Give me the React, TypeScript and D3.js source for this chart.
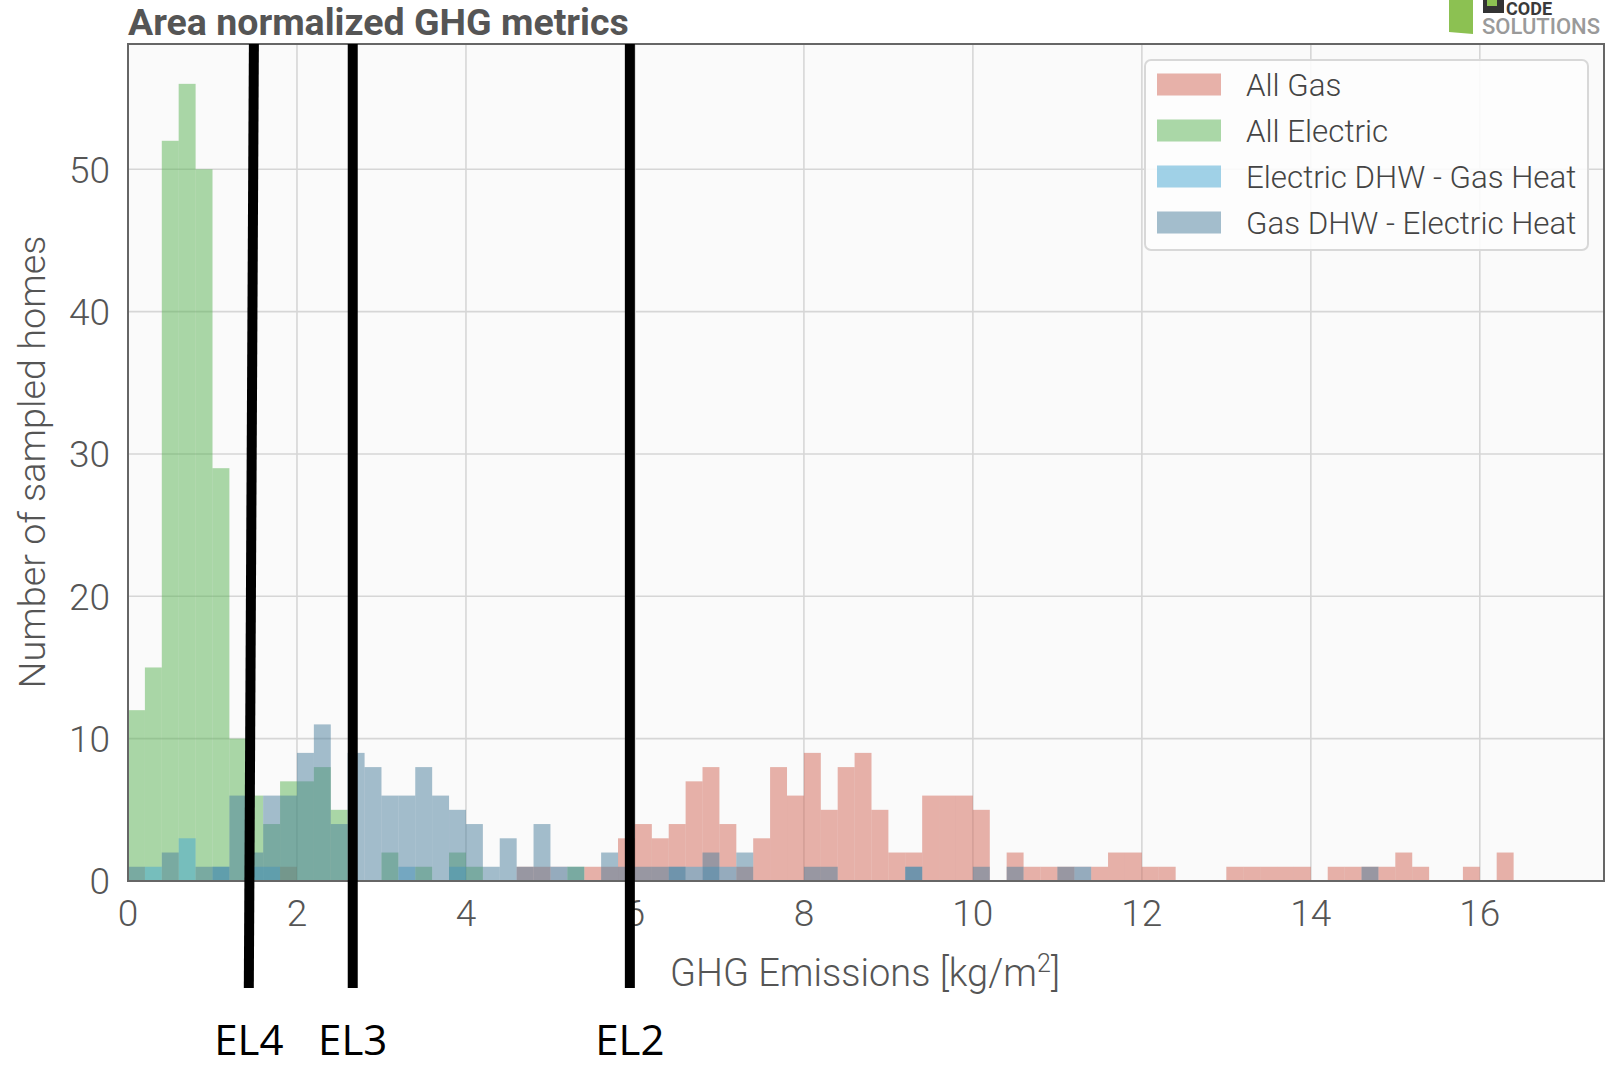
import React, { useEffect, useRef } from 'react';
import * as d3 from 'd3';

// histogram counts, one value per 0.2 kg/m2 bin starting at 0
const BIN_WIDTH = 0.2;

const allGas = [
  0, 0, 0, 0, 0, 0, 0, 0, 0, 1,
  0, 0, 0, 0, 0, 0, 0, 0, 0, 0,
  0, 0, 0, 1, 1, 1, 0, 1, 1, 3,
  4, 3, 4, 7, 8, 4, 1, 3, 8, 6,
  9, 5, 8, 9, 5, 2, 2, 6, 6, 6,
  5, 0, 2, 1, 1, 1, 1, 1, 2, 2,
  1, 1, 0, 0, 0, 1, 1, 1, 1, 1,
  0, 1, 1, 1, 1, 2, 1, 0, 0, 1,
  0, 2,
];

const allElectric = [
  12, 15, 52, 56, 50, 29, 10, 6, 4, 7,
  7, 8, 5, 0, 0, 2, 0, 1, 0, 2,
  1, 0, 0, 0, 0, 0, 1,
];

const elecDhwGasHeat = [
  0, 1, 0, 3, 0, 1, 0, 1, 1, 0,
  0, 0, 0, 0, 0, 0, 1, 0, 0, 1,
  0, 0, 0, 0, 0, 1, 0, 0, 0, 0,
  0, 0, 1, 1, 1, 1, 0, 0, 0, 0,
  0, 0, 0, 0, 0, 0, 1, 0, 0, 0,
  0, 0, 0, 0, 0, 0, 1,
];

const gasDhwElecHeat = [
  1, 0, 2, 0, 1, 1, 6, 2, 6, 6,
  9, 11, 4, 9, 8, 6, 6, 8, 6, 5,
  4, 1, 3, 1, 4, 0, 1, 0, 2, 1,
  1, 1, 1, 0, 2, 0, 2, 0, 0, 0,
  1, 1, 0, 0, 0, 0, 1, 0, 0, 0,
  1, 0, 1, 0, 0, 1, 0, 0, 0, 0,
  0, 0, 0, 0, 0, 0, 0, 0, 0, 0,
  0, 0, 0, 1,
];

const seriesNames = ['All Gas', 'All Electric', 'Electric DHW - Gas Heat', 'Gas DHW - Electric Heat'];
const seriesCounts = [allGas, allElectric, elecDhwGasHeat, gasDhwElecHeat];
const seriesColors = ['#d26656', '#58b252', '#44a6d2', '#4a7e9c'];

const xTicks = [0, 2, 4, 6, 8, 10, 12, 14, 16];
const yTicks = [0, 10, 20, 30, 40, 50];

// efficiency level marker lines drawn over the chart
const levelNames = ['EL4', 'EL3', 'EL2'];
const levelTopValue = [1.49, 2.66, 5.94];
const levelBottomValue = [1.43, 2.66, 5.94];

const App = () => {
  const ref = useRef(null);

  useEffect(() => {
    const width = 1614;
    const height = 1067;
    const margin = { top: 44, right: 10, bottom: 186, left: 128 };
    const fontMain = 'Roboto, "Noto Sans", sans-serif';

    const svg = d3.select(ref.current);
    svg.selectAll('*').remove();
    svg.attr('width', width).attr('height', height);

    svg.append('rect').attr('width', width).attr('height', height).attr('fill', '#ffffff');

    const x = d3.scaleLinear().domain([0, 17.47]).range([margin.left, width - margin.right]);
    const y = d3.scaleLinear().domain([0, 58.8]).range([height - margin.bottom, margin.top]);

    const plotW = x.range()[1] - x.range()[0];
    const plotH = y.range()[0] - y.range()[1];

    svg.append('rect')
      .attr('x', margin.left).attr('y', margin.top)
      .attr('width', plotW).attr('height', plotH)
      .attr('fill', '#fafafa');

    // grid
    const grid = svg.append('g').attr('stroke', '#d6d6d6').attr('stroke-width', 1.6);
    grid.selectAll('line.vx')
      .data(xTicks.filter(d => d > 0))
      .join('line')
      .attr('x1', d => x(d)).attr('x2', d => x(d))
      .attr('y1', margin.top).attr('y2', y(0));
    grid.selectAll('line.hy')
      .data(yTicks.filter(d => d > 0))
      .join('line')
      .attr('x1', margin.left).attr('x2', width - margin.right)
      .attr('y1', d => y(d)).attr('y2', d => y(d));

    // histogram bars, drawn series by series with transparency
    seriesCounts.forEach((counts, si) => {
      const bins = counts.map((c, i) => ({ x0: i * BIN_WIDTH, x1: (i + 1) * BIN_WIDTH, c })).filter(b => b.c > 0);
      svg.append('g')
        .attr('fill', seriesColors[si])
        .attr('fill-opacity', 0.5)
        .selectAll('rect')
        .data(bins)
        .join('rect')
        .attr('x', d => x(d.x0))
        .attr('y', d => y(d.c))
        .attr('width', d => x(d.x1) - x(d.x0))
        .attr('height', d => y(0) - y(d.c));
    });

    // frame
    svg.append('rect')
      .attr('x', margin.left).attr('y', margin.top)
      .attr('width', plotW).attr('height', plotH)
      .attr('fill', 'none').attr('stroke', '#666').attr('stroke-width', 2);

    // tick labels
    svg.append('g')
      .attr('font-family', fontMain).attr('font-weight', 300)
      .attr('font-size', 37).attr('fill', '#555').attr('text-anchor', 'middle')
      .selectAll('text')
      .data(xTicks)
      .join('text')
      .attr('x', d => x(d))
      .attr('y', y(0) + 45)
      .text(d => d);

    svg.append('g')
      .attr('font-family', fontMain).attr('font-weight', 300)
      .attr('font-size', 37).attr('fill', '#555').attr('text-anchor', 'end')
      .selectAll('text')
      .data(yTicks)
      .join('text')
      .attr('x', margin.left - 18)
      .attr('y', d => y(d))
      .attr('dy', '0.36em')
      .text(d => d);

    // axis labels
    const xl = svg.append('text')
      .attr('x', 865).attr('y', 986)
      .attr('text-anchor', 'middle')
      .attr('font-family', fontMain).attr('font-weight', 300)
      .attr('font-size', 38).attr('fill', '#555');
    xl.append('tspan').text('GHG Emissions [kg/m');
    xl.append('tspan').attr('dy', -14).attr('font-size', 25).text('2');
    xl.append('tspan').attr('dy', 14).text(']');

    svg.append('text')
      .attr('transform', `translate(45,${462}) rotate(-90)`)
      .attr('text-anchor', 'middle')
      .attr('font-family', fontMain).attr('font-weight', 300)
      .attr('font-size', 37.8).attr('fill', '#555')
      .text('Number of sampled homes');

    // title
    svg.append('text')
      .attr('x', margin.left).attr('y', 35)
      .attr('font-family', fontMain).attr('font-weight', 700)
      .attr('font-size', 37.5).attr('fill', '#555')
      .text('Area normalized GHG metrics');

    // legend
    const lg = svg.append('g');
    lg.append('rect')
      .attr('x', 1145).attr('y', 60).attr('width', 443).attr('height', 190)
      .attr('rx', 6).attr('fill', '#fdfdfd').attr('fill-opacity', 0.9)
      .attr('stroke', '#d8d8d8').attr('stroke-width', 2);
    const rowY = d3.scaleLinear().domain([0, 3]).range([84.5, 222.5]);
    seriesNames.forEach((name, i) => {
      lg.append('rect')
        .attr('x', 1157).attr('y', rowY(i) - 11)
        .attr('width', 64).attr('height', 22)
        .attr('fill', seriesColors[i]).attr('fill-opacity', 0.5);
      lg.append('text')
        .attr('x', 1246).attr('y', rowY(i)).attr('dy', '0.36em')
        .attr('font-family', fontMain).attr('font-weight', 300)
        .attr('font-size', 31.3).attr('fill', '#444')
        .text(name);
    });

    // logo
    const logo = svg.append('g');
    logo.append('polygon')
      .attr('points', '1449,0 1473,0 1473,34 1449,32')
      .attr('fill', '#8cc152');
    logo.append('rect').attr('x', 1483).attr('y', 0).attr('width', 21).attr('height', 13).attr('fill', '#333');
    logo.append('rect').attr('x', 1487).attr('y', 0).attr('width', 10).attr('height', 6).attr('fill', '#8cc152');
    logo.append('text')
      .attr('x', 1506).attr('y', 15)
      .attr('font-family', fontMain).attr('font-weight', 700)
      .attr('font-size', 18).attr('fill', '#3a3a3a')
      .text('CODE');
    logo.append('text')
      .attr('x', 1482).attr('y', 34)
      .attr('font-family', fontMain).attr('font-weight', 500)
      .attr('font-size', 22).attr('fill', '#9a9a9a')
      .text('SOLUTIONS');

    // EL marker lines and labels
    const lv = svg.append('g');
    levelNames.forEach((name, i) => {
      lv.append('line')
        .attr('x1', x(levelTopValue[i])).attr('y1', margin.top)
        .attr('x2', x(levelBottomValue[i])).attr('y2', 988)
        .attr('stroke', '#000').attr('stroke-width', 10);
      lv.append('text')
        .attr('x', x(levelBottomValue[i]))
        .attr('y', 1055)
        .attr('text-anchor', 'middle')
        .attr('font-family', '"Liberation Sans Narrow", "Open Sans", sans-serif')
        .attr('font-size', 42).attr('fill', '#000')
        .text(name);
    });
  }, []);

  return <svg ref={ref} style={{ position: 'absolute', left: 0, top: 0, display: 'block' }} />;
};

export default App;
